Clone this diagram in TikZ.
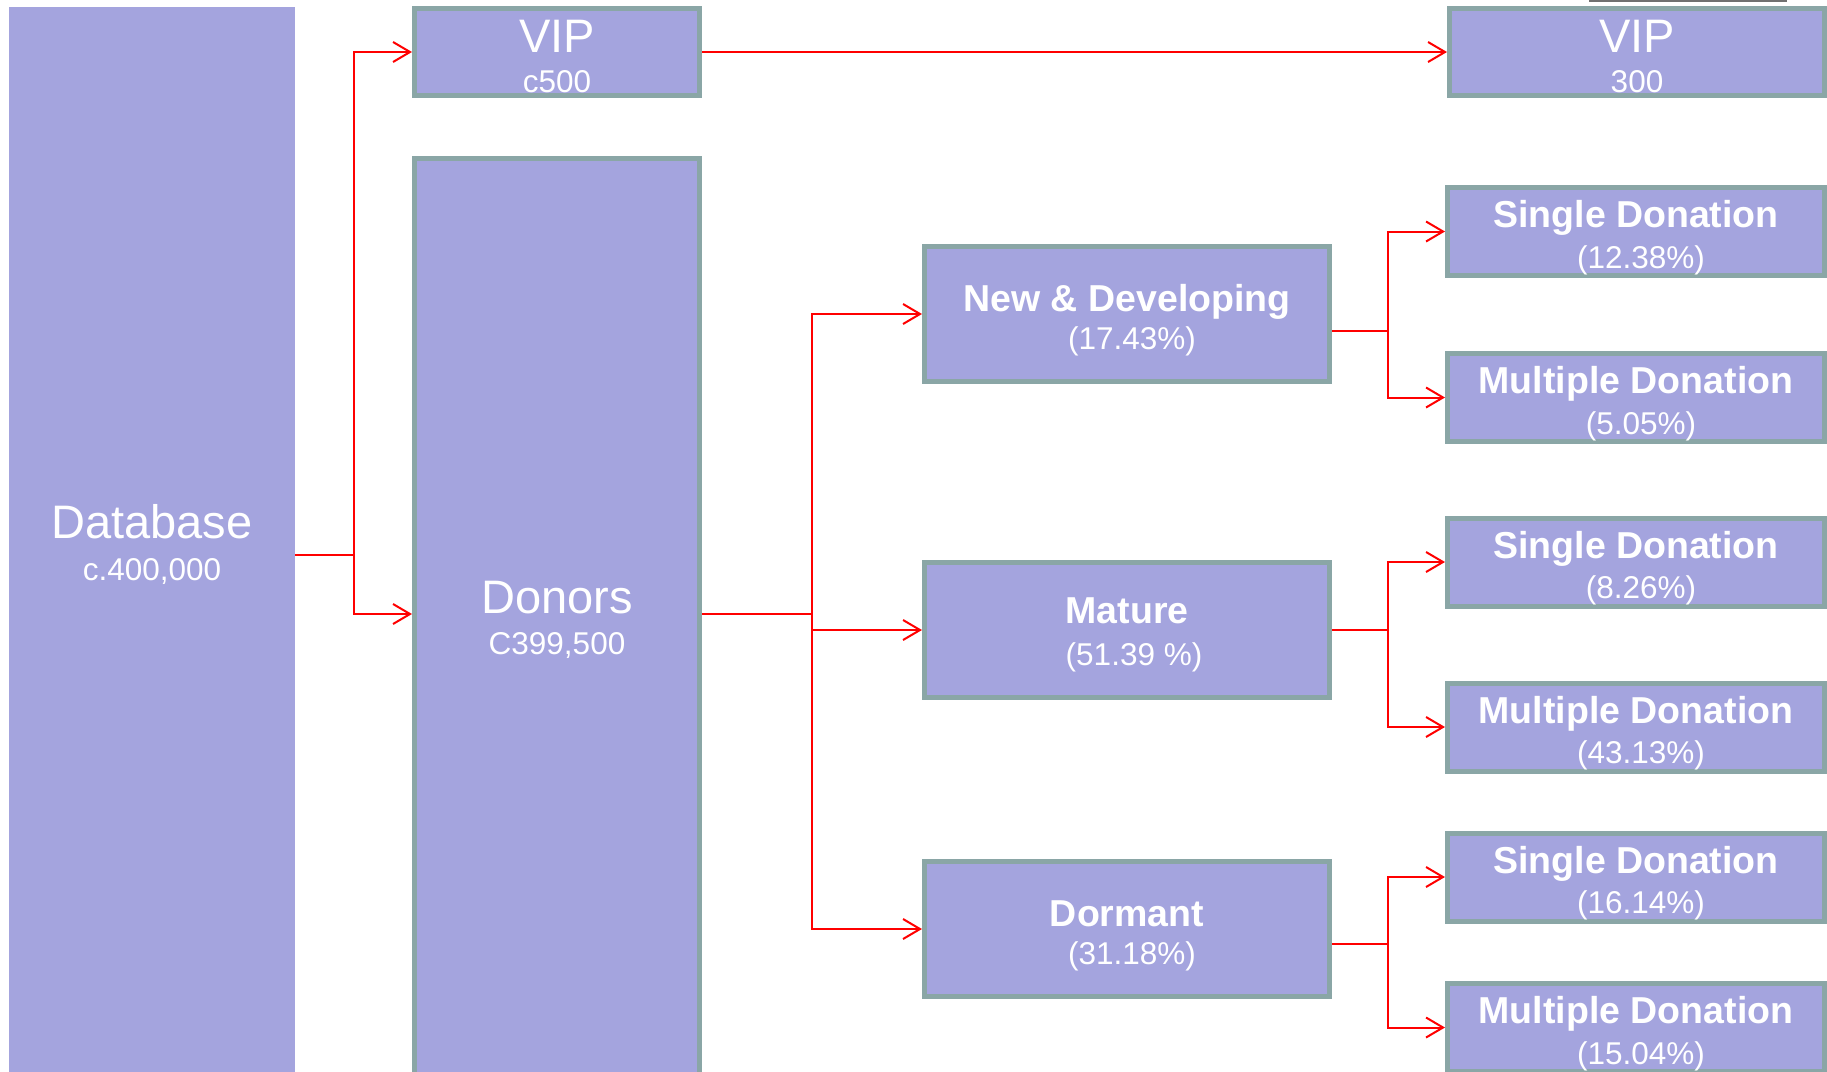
\documentclass[tikz,border=0pt]{standalone}
\usepackage{fontspec}
\setmainfont{Liberation Sans}
\usetikzlibrary{arrows.meta}
\definecolor{boxfill}{RGB}{164,164,222}
\definecolor{boxline}{RGB}{138,166,166}
\definecolor{linkred}{RGB}{255,0,0}
\definecolor{tabgray}{RGB}{112,112,112}
\begin{document}
\begin{tikzpicture}[x=1pt,y=-1pt,
  box/.style={draw=boxline, line width=5pt, fill=boxfill, inner sep=0pt, outer sep=2.5pt},
  plain/.style={fill=boxfill, draw=none, inner sep=0pt, outer sep=0pt},
  big/.style={text=white, anchor=base, inner sep=0pt, font=\fontsize{47}{47}\selectfont},
  small/.style={text=white, anchor=base, inner sep=0pt, font=\fontsize{31.5}{31.5}\selectfont},
  heavy/.style={text=white, anchor=base, inner sep=0pt, font=\fontsize{37.5}{37.5}\selectfont\bfseries},
  link/.style={draw=linkred, line width=2pt},
  arr/.style={link, -{Straight Barb[length=17pt,width=20pt]}},
  midbox/.style={box, minimum width=405pt, minimum height=135pt},
  rbox/.style={box, minimum width=377pt, minimum height=88pt}
]
\clip (0,0) rectangle (1827,1071);
\fill[tabgray] (1589,0) rectangle (1787,2);

% left column
\node[plain, minimum width=286pt, minimum height=1084pt] (db) at (152,549) {};
\node[big] (dbA) at (152,538) {Database};
\node[small] (dbB) at (152,580) {c.400,000};

\node[box, minimum width=285pt, minimum height=87pt] (vip1) at (557,52) {};
\node[big] (vip1A) at (557,52) {VIP};
\node[small] (vip1B) at (557,92) {c500};

\node[box, minimum width=285pt, minimum height=940pt] (don) at (557,628) {};
\node[big] (donA) at (557,613) {Donors};
\node[small] (donB) at (557,654) {C399,500};

\node[box, minimum width=375pt, minimum height=87pt] (vip2) at (1637,52) {};
\node[big] (vip2A) at (1637,52) {VIP};
\node[small] (vip2B) at (1637,92) {300};

% middle column
\node[midbox] (nd) at (1127,314) {};
\node[heavy] (ndA) at (1127,311) {New \& Developing};
\node[small] (ndB) at (1132,349) {(17.43\%)};

\node[midbox] (mat) at (1127,630) {};
\node[heavy] (matA) at (1127,623) {Mature};
\node[small] (matB) at (1134,665) {(51.39 \%)};

\node[midbox] (dor) at (1127,929) {};
\node[heavy] (dorA) at (1127,926) {Dormant};
\node[small] (dorB) at (1132,964) {(31.18\%)};

% right column
\node[rbox] (s1) at (1636,231.5) {};
\node[heavy] (s1A) at (1636,227.5) {Single Donation};
\node[small] (s1B) at (1641,268) {(12.38\%)};

\node[rbox] (m1) at (1636,397.5) {};
\node[heavy] (m1A) at (1636,393.5) {Multiple Donation};
\node[small] (m1B) at (1641,434) {(5.05\%)};

\node[rbox] (s2) at (1636,562) {};
\node[heavy] (s2A) at (1636,558) {Single Donation};
\node[small] (s2B) at (1641,598.5) {(8.26\%)};

\node[rbox] (m2) at (1636,727) {};
\node[heavy] (m2A) at (1636,723) {Multiple Donation};
\node[small] (m2B) at (1641,763.5) {(43.13\%)};

\node[rbox] (s3) at (1636,877) {};
\node[heavy] (s3A) at (1636,873) {Single Donation};
\node[small] (s3B) at (1641,913.5) {(16.14\%)};

\node[rbox] (m3) at (1636,1027.5) {};
\node[heavy] (m3A) at (1636,1023.5) {Multiple Donation};
\node[small] (m3B) at (1641,1064) {(15.04\%)};

% connectors
\coordinate (j1) at (354,555);
\draw[link] (db.east |- j1) -- (j1);
\draw[arr] (j1) |- (vip1.west);
\draw[arr] (j1) |- ([yshift=14pt]don.west);
\draw[arr] (vip1.east) -- (vip2.west);

\coordinate (j2) at (812,614);
\draw[link] ([yshift=14pt]don.east) -- (j2);
\draw[arr] (j2) |- (nd.west);
\draw[arr] (j2) |- (mat.west);
\draw[arr] (j2) |- (dor.west);

\coordinate (j3) at (1388,331);
\draw[link] (nd.east |- j3) -- (j3);
\draw[arr] (j3) |- (s1.west);
\draw[arr] (j3) |- (m1.west);

\coordinate (j4) at (1388,630);
\draw[link] (mat.east) -- (j4);
\draw[arr] (j4) |- (s2.west);
\draw[arr] (j4) |- (m2.west);

\coordinate (j5) at (1388,944);
\draw[link] (dor.east |- j5) -- (j5);
\draw[arr] (j5) |- (s3.west);
\draw[arr] (j5) |- (m3.west);
\end{tikzpicture}
\end{document}
